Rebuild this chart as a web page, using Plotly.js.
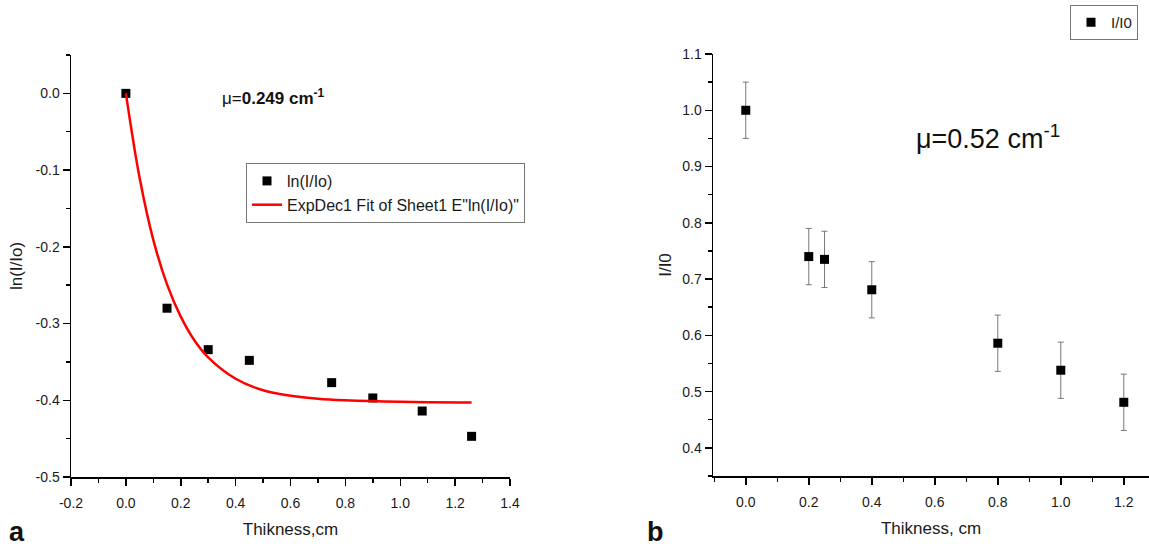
<!DOCTYPE html>
<html>
<head>
<meta charset="utf-8">
<script src="https://cdn.plot.ly/plotly-3.0.1.min.js"></script>
<style>html,body{margin:0;padding:0;background:#fff}#chart{width:1149px;height:548px}</style>
</head>
<body>
<div id="chart"></div>
<script>
// Panel a: ln(I/Io) vs thickness
const thickA = [0, 0.15, 0.3, 0.45, 0.75, 0.9, 1.08, 1.26];
const lnRatio = [0, -0.28, -0.334, -0.348, -0.377, -0.397, -0.414, -0.447];
// ExpDec1 fit curve
const fitX = [0, 0.05, 0.1, 0.15, 0.2, 0.25, 0.3, 0.4, 0.5, 0.6, 0.7, 0.8, 1.0, 1.26];
const fitY = [0, -0.11, -0.191, -0.249, -0.291, -0.322, -0.344, -0.372, -0.387, -0.394, -0.398, -0.4, -0.402, -0.403];
// Panel b: I/I0 vs thickness
const thickB = [0, 0.2, 0.25, 0.4, 0.8, 1.0, 1.2];
const ratio = [1.0, 0.74, 0.735, 0.681, 0.586, 0.538, 0.481];
const ratioErr = [0.05, 0.05, 0.05, 0.05, 0.05, 0.05, 0.05];

// Tick labels
const xTickValsA = [-0.2, 0, 0.2, 0.4, 0.6, 0.8, 1.0, 1.2, 1.4];
const xTickTextA = ['-0.2', '0.0', '0.2', '0.4', '0.6', '0.8', '1.0', '1.2', '1.4'];
const yTickValsA = [-0.5, -0.4, -0.3, -0.2, -0.1, 0];
const yTickTextA = ['-0.5', '-0.4', '-0.3', '-0.2', '-0.1', '0.0'];
const xTickValsB = [0, 0.2, 0.4, 0.6, 0.8, 1.0, 1.2];
const xTickTextB = ['0.0', '0.2', '0.4', '0.6', '0.8', '1.0', '1.2'];
const yTickValsB = [0.4, 0.5, 0.6, 0.7, 0.8, 0.9, 1.0, 1.1];
const yTickTextB = ['0.4', '0.5', '0.6', '0.7', '0.8', '0.9', '1.0', '1.1'];

const W = 1149, H = 548;
const px = v => v / W, py = v => 1 - v / H;
const FONT = 'Liberation Sans, Arial, sans-serif';

const axisCommon = {
  showgrid: false, zeroline: false, showline: true, linecolor: '#000', linewidth: 1.5,
  ticks: 'outside', ticklen: 7, tickwidth: 1.5, tickcolor: '#000',
  tickfont: {family: FONT, size: 14, color: '#1a1a1a'},
  mirror: false, automargin: false
};
const minorA = dt => ({ticks: 'outside', ticklen: 4, tickwidth: 1.5, tickcolor: '#000', dtick: dt, tick0: 0, tickmode: 'linear'});
const titleFont = {family: FONT, size: 17, color: '#1a1a1a'};

const traces = [
  {x: thickA, y: lnRatio, type: 'scatter', mode: 'markers', name: 'ln(I/Io)',
   marker: {symbol: 'square', size: 9, color: '#000'}, xaxis: 'x', yaxis: 'y', legend: 'legend'},
  {x: fitX, y: fitY, type: 'scatter', mode: 'lines', name: 'ExpDec1 Fit of Sheet1 E"ln(I/Io)"',
   line: {color: '#ff0000', width: 2.5, shape: 'spline'}, xaxis: 'x', yaxis: 'y', legend: 'legend'},
  {x: thickB, y: ratio, type: 'scatter', mode: 'markers', name: 'I/I0',
   marker: {symbol: 'square', size: 9, color: '#000'},
   error_y: {type: 'data', array: ratioErr, visible: true, color: '#777', thickness: 1, width: 3},
   xaxis: 'x2', yaxis: 'y2', legend: 'legend2'}
];

const layout = {
  width: W, height: H, margin: {l: 0, r: 0, t: 0, b: 0},
  paper_bgcolor: '#fff', plot_bgcolor: '#fff',
  font: {family: FONT, color: '#1a1a1a'},
  xaxis: Object.assign({}, axisCommon, {
    domain: [px(71), px(510)], anchor: 'y', range: [-0.2, 1.4],
    tickmode: 'array', tickvals: xTickValsA, ticktext: xTickTextA, ticklabelstandoff: 6,
    minor: minorA(0.1),
    title: {text: 'Thikness,cm', font: titleFont, standoff: 13}
  }),
  yaxis: Object.assign({}, axisCommon, {
    domain: [py(477), py(55)], anchor: 'x', range: [-0.5, 0.05],
    tickmode: 'array', tickvals: yTickValsA, ticktext: yTickTextA,
    minor: minorA(0.05),
    title: {text: 'ln(I/Io)', font: titleFont, standoff: 8}
  }),
  xaxis2: Object.assign({}, axisCommon, {
    domain: [px(713), 1], anchor: 'y2', range: [-0.104, 1.28],
    tickmode: 'array', tickvals: xTickValsB, ticktext: xTickTextB, ticklabelstandoff: 6,
    minor: minorA(0.1),
    title: {text: 'Thikness, cm', font: titleFont, standoff: 13}
  }),
  yaxis2: Object.assign({}, axisCommon, {
    domain: [py(476), py(54)], anchor: 'x2', range: [0.35, 1.1],
    tickmode: 'array', tickvals: yTickValsB, ticktext: yTickTextB,
    minor: minorA(0.05),
    title: {text: 'I/I0', font: titleFont, standoff: 6}
  }),
  legend: {
    x: px(246), y: py(163), xanchor: 'left', yanchor: 'top',
    bordercolor: '#777', borderwidth: 1, bgcolor: '#fff',
    font: {family: FONT, size: 16, color: '#1a1a1a'}, tracegroupgap: 0, itemwidth: 30
  },
  legend2: {
    x: px(1070), y: py(5), xanchor: 'left', yanchor: 'top',
    bordercolor: '#777', borderwidth: 1, bgcolor: '#fff',
    font: {family: FONT, size: 15, color: '#1a1a1a'}, itemwidth: 30
  },
  annotations: [
    {xref: 'paper', yref: 'paper', x: px(220), y: py(97), xanchor: 'left', yanchor: 'middle',
     text: 'μ=<b>0.249 cm<sup>-1</sup></b>', showarrow: false,
     font: {family: FONT, size: 17, color: '#111'}},
    {xref: 'paper', yref: 'paper', x: px(914), y: py(137), xanchor: 'left', yanchor: 'middle',
     text: 'μ=0.52 cm<sup>-1</sup>', showarrow: false,
     font: {family: FONT, size: 27, color: '#111'}},
    {xref: 'paper', yref: 'paper', x: px(7), y: py(532), xanchor: 'left', yanchor: 'middle',
     text: '<b>a</b>', showarrow: false, font: {family: FONT, size: 27, color: '#111'}},
    {xref: 'paper', yref: 'paper', x: px(645), y: py(532), xanchor: 'left', yanchor: 'middle',
     text: '<b>b</b>', showarrow: false, font: {family: FONT, size: 27, color: '#111'}}
  ],
  showlegend: true
};

Plotly.newPlot('chart', traces, layout, {displayModeBar: false, staticPlot: true});
</script>
</body>
</html>
